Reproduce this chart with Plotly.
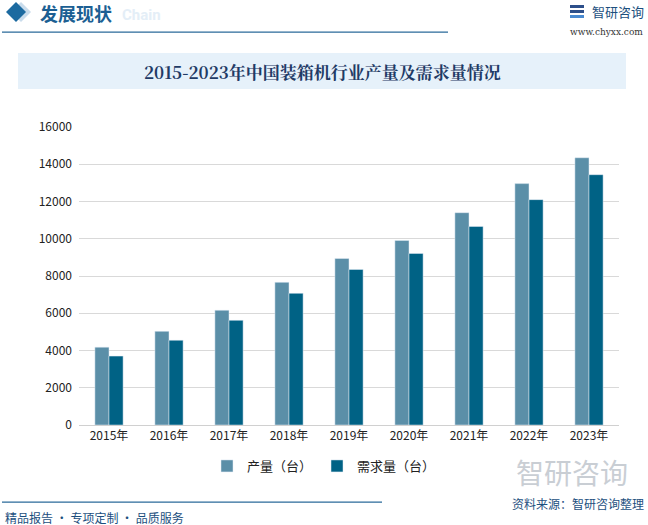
import plotly.graph_objects as go

years = ["2015年", "2016年", "2017年", "2018年", "2019年",
         "2020年", "2021年", "2022年", "2023年"]
production = [4180, 5030, 6160, 7660, 8940, 9910, 11400, 12960, 14350]
demand = [3700, 4550, 5620, 7070, 8350, 9210, 10660, 12100, 13440]

W, H = 648, 525
L, R, T, B = 79, 29, 127, 100
PW, PH = W - L - R, H - T - B


def px(x):
    return (x - L) / PW


def py(y):
    return (H - B - y) / PH


fig = go.Figure()
fig.add_trace(go.Bar(x=years, y=production, name="产量（台）",
                     marker_color="#5b8fa8", width=0.235, offset=-0.235))
fig.add_trace(go.Bar(x=years, y=demand, name="需求量（台）",
                     marker_color="#006285", width=0.235, offset=0))

font = "Noto Sans CJK SC, Noto Sans, sans-serif"
navy = "#1c4f7e"


def rect(x0, y0, x1, y1, color, layer="above"):
    return dict(type="rect", xref="paper", yref="paper", x0=px(x0), x1=px(x1),
                y0=py(y1), y1=py(y0), fillcolor=color, line_width=0, layer=layer)


shapes = [
    rect(18, 53, 626, 89, "#e6f1fa", "below"),  # title band
    rect(2, 31.5, 448, 32.7, "#2a6a9a"),  # header line
    rect(2, 501.5, 382, 502.7, "#2a6a9a"),  # footer line
    # logo mark
    rect(570, 5, 584, 8, "#2d4f8a"),
    rect(570, 10, 584, 13, "#2d4f8a"),
    rect(570, 15, 584, 18, "#4a8ad0"),
    # header diamonds
    dict(type="path", xref="paper", yref="paper",
         path=f"M {px(21)} {py(2)} L {px(31)} {py(12)} L {px(21)} {py(22)} L {px(11)} {py(12)} Z",
         fillcolor="#c9dcec", line_width=0),
    dict(type="path", xref="paper", yref="paper",
         path=f"M {px(16)} {py(2)} L {px(26)} {py(12)} L {px(16)} {py(22)} L {px(6)} {py(12)} Z",
         fillcolor="#1c6aa0", line_width=0),
]

annotations = [
    dict(text="<b>2015-2023年中国装箱机行业产量及需求量情况</b>", x=px(322), y=py(71),
         font=dict(size=17, color="#1f3b66", family="Noto Serif CJK SC, DejaVu Serif, serif")),
    dict(text="<b>发展现状</b>", x=px(38), y=py(13), xanchor="left",
         font=dict(size=18, color="#1c5f93", family=font)),
    dict(text="<b>Chain</b>", x=px(120), y=py(15), xanchor="left",
         font=dict(size=15, color="#e4eef7", family="Roboto, sans-serif")),
    dict(text="智研咨询", x=px(590), y=py(12), xanchor="left",
         font=dict(size=13, color="#1c4f7e", family=font)),
    dict(text="www.chyxx.com", x=px(645), y=py(32), xanchor="right",
         font=dict(size=9, color="#333333", family="DejaVu Serif, serif")),
    dict(text="智研咨询", x=px(630), y=py(472), xanchor="right",
         font=dict(size=28, color="#c9ced4", family=font)),
    dict(text="精品报告 · 专项定制 · 品质服务", x=px(3), y=py(517), xanchor="left",
         font=dict(size=12, color=navy, family=font)),
    dict(text="资料来源：智研咨询整理", x=px(646), y=py(503), xanchor="right",
         font=dict(size=12, color=navy, family=font)),
]
for a in annotations:
    a.update(xref="paper", yref="paper", showarrow=False)
    a.setdefault("xanchor", "center")
    a["yanchor"] = "middle"

fig.update_layout(
    width=W, height=H,
    margin=dict(l=L, r=R, t=T, b=B, autoexpand=False),
    paper_bgcolor="white", plot_bgcolor="white",
    font=dict(family=font, size=12, color="#222222"),
    barmode="overlay",
    showlegend=True,
    legend=dict(orientation="h", xref="container", yref="container",
                x=0.5, xanchor="center", y=1 - 466 / H, yanchor="middle",
                font=dict(size=13, color="#222222"), traceorder="normal",
                itemwidth=30),
    xaxis=dict(showline=True, linecolor="#d0d0d0", ticks="", tickfont=dict(size=12),
               automargin=False),
    yaxis=dict(range=[0, 16000], dtick=2000, tickformat="d", showgrid=True,
               gridcolor="#d9d9d9", zeroline=False, ticks="", tickfont=dict(size=12),
               ticklabelstandoff=6, automargin=False),
    shapes=shapes,
    annotations=annotations,
)

fig.write_html("out.html", config={"displayModeBar": False},
               post_script="document.body.style.margin='0';")
